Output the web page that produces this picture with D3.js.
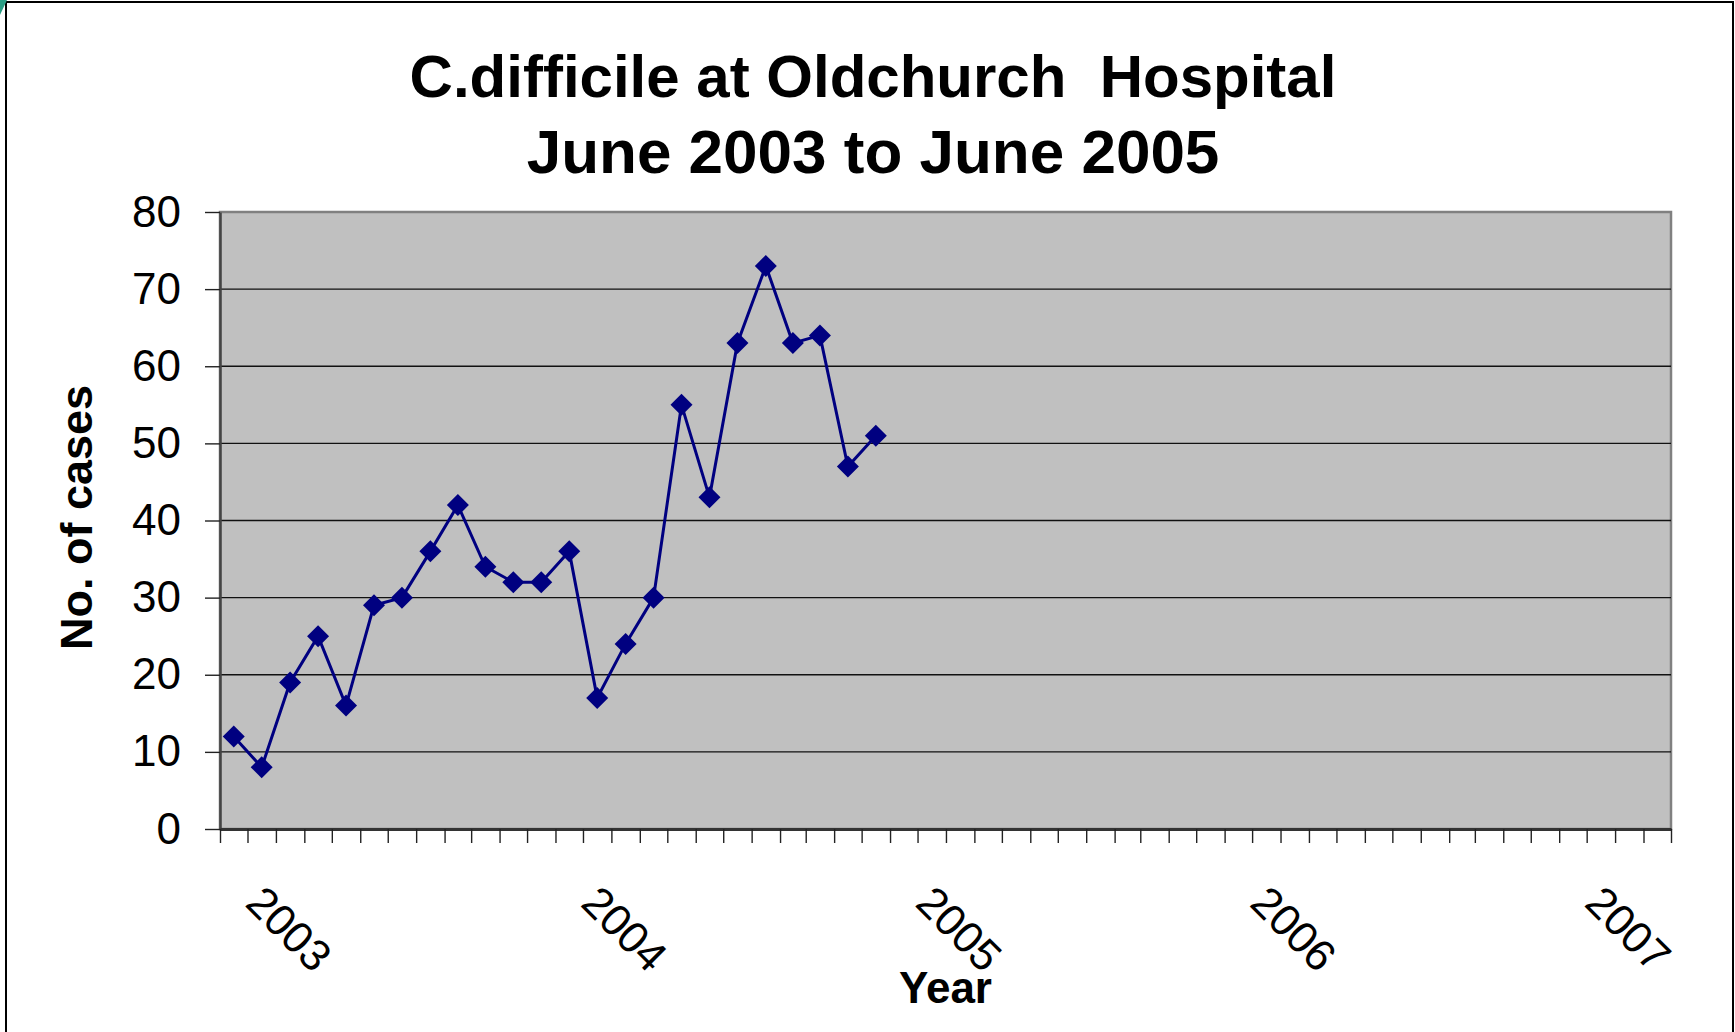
<!DOCTYPE html>
<html>
<head>
<meta charset="utf-8">
<script src="https://cdnjs.cloudflare.com/ajax/libs/d3/7.8.5/d3.min.js"></script>
<style>
  html, body { margin: 0; padding: 0; background: #fff; }
  svg { display: block; font-family: "Liberation Sans", Arial, sans-serif; }
</style>
</head>
<body>
<div id="chart"></div>
<script>
// monthly counts, June 2003 .. May 2005
var months = ["2003-06", "2003-07", "2003-08", "2003-09", "2003-10", "2003-11",
              "2003-12", "2004-01", "2004-02", "2004-03", "2004-04", "2004-05",
              "2004-06", "2004-07", "2004-08", "2004-09", "2004-10", "2004-11",
              "2004-12", "2005-01", "2005-02", "2005-03", "2005-04", "2005-05"];
var cases = [12, 8, 19, 25, 16, 29, 30, 36, 42, 34, 32, 32,
             36, 17, 24, 30, 55, 43, 63, 73, 63, 64, 47, 51];
var yearLabels = ["2003", "2004", "2005", "2006", "2007"];
var yTicks = [0, 10, 20, 30, 40, 50, 60, 70, 80];
var titleLines = ["C.difficile at Oldchurch  Hospital", "June 2003 to June 2005"];

var W = 1735, H = 1032,
    plot = { left: 220, top: 212, right: 1671, bottom: 829 };

var parseMonth = d3.timeParse("%Y-%m");

// mid point of a month (Excel date axis puts points at the middle of the month)
function midMonth(d) {
    var a = d3.timeMonth.floor(d), b = d3.timeMonth.offset(a, 1);
    return new Date((+a + +b) / 2);
}

var x = d3.scaleTime()
    .domain([new Date(2003, 5, 1), new Date(2007, 9, 1)])
    .range([plot.left, plot.right]);

var y = d3.scaleLinear()
    .domain([0, 80])
    .range([plot.bottom, plot.top]);

var data = months.map(function (m, i) {
    return { date: midMonth(parseMonth(m)), value: cases[i] };
});

var svg = d3.select("#chart").append("svg")
    .attr("width", W)
    .attr("height", H);

// outer chart frame
svg.append("rect")
    .attr("x", 6).attr("y", 2)
    .attr("width", 1727).attr("height", 1060)
    .attr("fill", "#fff")
    .attr("stroke", "#000")
    .attr("stroke-width", 2);

svg.append("polygon")
    .attr("points", "0,0 7,0 0,15")
    .attr("fill", "#2a9d84");

// plot area
svg.append("rect")
    .attr("x", plot.left).attr("y", plot.top)
    .attr("width", plot.right - plot.left)
    .attr("height", plot.bottom - plot.top)
    .attr("fill", "#c0c0c0")
    .attr("stroke", "#808080")
    .attr("stroke-width", 2.5);

// gridlines
svg.append("g")
    .selectAll("line")
    .data(yTicks.filter(function (v) { return v > 0 && v < 80; }))
    .enter()
    .append("line")
    .attr("x1", plot.left).attr("x2", plot.right)
    .attr("y1", function (d) { return y(d); })
    .attr("y2", function (d) { return y(d); })
    .attr("stroke", "#111")
    .attr("stroke-width", 1.4);

// y axis
var yAxis = svg.append("g")
    .attr("transform", "translate(" + plot.left + ",0)")
    .call(d3.axisLeft(y).tickValues(yTicks).tickSize(15).tickPadding(24).tickSizeOuter(0));
yAxis.select(".domain").attr("stroke", "#444").attr("stroke-width", 2.5);
yAxis.selectAll(".tick line").attr("stroke", "#222").attr("stroke-width", 1.4);
yAxis.selectAll(".tick text")
    .attr("font-family", "'Liberation Sans', Arial, sans-serif")
    .attr("font-size", 44)
    .attr("fill", "#000");

// x axis: a tick at every month boundary, no default labels
var xAxis = svg.append("g")
    .attr("transform", "translate(0," + plot.bottom + ")")
    .call(d3.axisBottom(x)
        .ticks(d3.timeMonth.every(1))
        .tickSize(14)
        .tickSizeOuter(0)
        .tickFormat(""));
xAxis.select(".domain").attr("stroke", "#333").attr("stroke-width", 3);
xAxis.selectAll(".tick line").attr("stroke", "#222").attr("stroke-width", 1.4);

// rotated year labels at mid-June of each year
svg.append("g")
    .selectAll("text")
    .data(yearLabels)
    .enter()
    .append("text")
    .attr("transform", function (d) {
        var px = x(midMonth(new Date(+d, 5, 1))) + 10;
        return "translate(" + px + "," + (plot.bottom + 76) + ") rotate(45)";
    })
    .attr("font-size", 44)
    .attr("fill", "#000")
    .text(function (d) { return d; });

// series line
var line = d3.line()
    .x(function (d) { return x(d.date); })
    .y(function (d) { return y(d.value); });

svg.append("path")
    .datum(data)
    .attr("d", line)
    .attr("fill", "none")
    .attr("stroke", "#000080")
    .attr("stroke-width", 3);

// diamond markers
svg.append("g")
    .selectAll("path")
    .data(data)
    .enter()
    .append("path")
    .attr("transform", function (d) {
        return "translate(" + x(d.date) + "," + y(d.value) + ")";
    })
    .attr("d", "M0,-11L11,0L0,11L-11,0Z")
    .attr("fill", "#000080");

// titles
svg.append("g")
    .selectAll("text")
    .data(titleLines)
    .enter()
    .append("text")
    .attr("x", 873)
    .attr("y", function (d, i) { return 97 + i * 76; })
    .attr("text-anchor", "middle")
    .attr("font-size", function (d, i) { return i ? 62 : 60; })
    .attr("font-weight", "bold")
    .style("white-space", "pre")
    .text(function (d) { return d; });

svg.append("text")
    .attr("transform", "translate(92," + ((plot.top + plot.bottom) / 2 - 3) + ") rotate(-90)")
    .attr("text-anchor", "middle")
    .attr("font-size", 45)
    .attr("font-weight", "bold")
    .text("No. of cases");

svg.append("text")
    .attr("x", (plot.left + plot.right) / 2)
    .attr("y", 1003)
    .attr("text-anchor", "middle")
    .attr("font-size", 44)
    .attr("font-weight", "bold")
    .text("Year");
</script>
</body>
</html>
